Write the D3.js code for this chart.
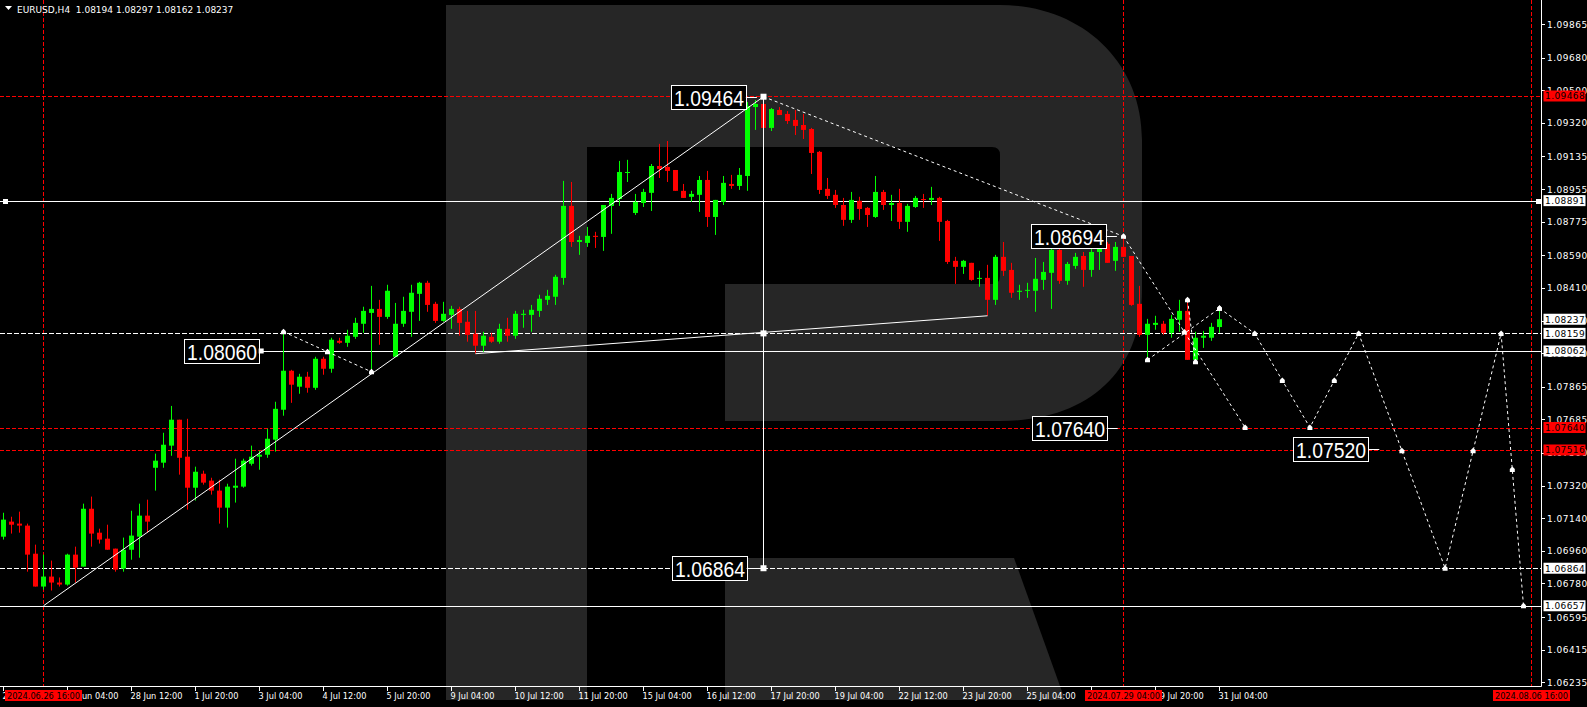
<!DOCTYPE html>
<html><head><meta charset="utf-8">
<script src="https://cdn.jsdelivr.net/npm/d3@7"></script>
<style>html,body{margin:0;padding:0;background:#000;overflow:hidden}</style>
</head><body>
<svg id="chart" width="1587" height="707"></svg>
<script>
// ---------------- DATA ----------------
const symbolTitle = "EURUSD,H4  1.08194 1.08297 1.08162 1.08237";
const candleOpen = [1.07038,1.07121,1.07110,1.07099,1.06944,1.06763,1.06818,1.06785,1.06774,1.06939,
1.06873,1.07192,1.07060,1.07027,1.06972,1.06862,1.06966,1.07038,1.07154,1.07418,
1.07446,1.07540,1.07683,1.07479,1.07308,1.07385,1.07347,1.07292,1.07198,1.07308,
1.07314,1.07440,1.07479,1.07490,1.07573,1.07738,1.07953,1.07865,1.07920,1.07859,
1.08019,1.07964,1.08118,1.08107,1.08140,1.08212,1.08272,1.08294,1.08250,1.08030,
1.08212,1.08278,1.08377,1.08438,1.08322,1.08228,1.08261,1.08294,1.08223,1.08157,
1.08091,1.08140,1.08113,1.08184,1.08146,1.08261,1.08261,1.08283,1.08344,1.08361,
1.08465,1.08862,1.08663,1.08658,1.08697,1.08691,1.08862,1.08900,1.09044,1.08823,
1.08878,1.08934,1.09082,1.09077,1.09060,1.08945,1.08912,1.08923,1.09005,1.08801,
1.08884,1.08983,1.08972,1.09027,1.09407,1.09424,1.09292,1.09391,1.09369,1.09336,
1.09308,1.09286,1.09160,1.08956,1.08923,1.08867,1.08785,1.08890,1.08851,1.08801,
1.08939,1.08867,1.08878,1.08774,1.08856,1.08900,1.08895,1.08906,1.08779,1.08559,
1.08526,1.08548,1.08460,1.08465,1.08344,1.08581,1.08509,1.08388,1.08394,1.08394,
1.08454,1.08493,1.08619,1.08449,1.08531,1.08586,1.08509,1.08608,1.08653,1.08559,
1.08636,1.08586,1.08322,1.08151,1.08206,1.08212,1.08162,1.08234,1.08283,1.08013,
1.08135,1.08135,1.08194];
const candleHigh = [1.07170,1.07148,1.07176,1.07110,1.06994,1.06939,1.06906,1.06813,1.06944,1.06983,
1.07220,1.07259,1.07082,1.07104,1.06972,1.07033,1.07181,1.07220,1.07242,1.07496,
1.07611,1.07759,1.07683,1.07688,1.07424,1.07402,1.07363,1.07352,1.07330,1.07468,
1.07468,1.07540,1.07512,1.07633,1.07782,1.08168,1.07958,1.07936,1.07947,1.08030,
1.08030,1.08135,1.08135,1.08179,1.08245,1.08306,1.08421,1.08344,1.08427,1.08327,
1.08361,1.08427,1.08443,1.08449,1.08333,1.08333,1.08311,1.08306,1.08283,1.08283,
1.08168,1.08162,1.08212,1.08245,1.08283,1.08289,1.08316,1.08372,1.08399,1.08482,
1.09000,1.08994,1.08697,1.08746,1.08719,1.08867,1.08928,1.09110,1.09116,1.08928,
1.08956,1.09093,1.09204,1.09220,1.09060,1.08983,1.08945,1.09027,1.09055,1.08895,
1.09027,1.09033,1.09071,1.09435,1.09446,1.09464,1.09402,1.09407,1.09385,1.09391,
1.09369,1.09292,1.09165,1.09016,1.08950,1.08906,1.08939,1.08912,1.08856,1.09027,
1.08950,1.08923,1.08956,1.08873,1.08917,1.08928,1.08967,1.08912,1.08785,1.08581,
1.08564,1.08548,1.08504,1.08537,1.08592,1.08663,1.08548,1.08427,1.08438,1.08575,
1.08553,1.08653,1.08669,1.08553,1.08603,1.08608,1.08653,1.08674,1.08663,1.08663,
1.08694,1.08586,1.08421,1.08239,1.08256,1.08228,1.08261,1.08344,1.08344,1.08168,
1.08173,1.08217,1.08297];
const candleLow = [1.07022,1.07055,1.07060,1.06845,1.06763,1.06746,1.06741,1.06763,1.06768,1.06785,
1.06873,1.06983,1.07000,1.06966,1.06845,1.06845,1.06911,1.06922,1.07060,1.07292,
1.07418,1.07484,1.07380,1.07187,1.07237,1.07325,1.07270,1.07110,1.07088,1.07226,
1.07308,1.07430,1.07407,1.07473,1.07507,1.07705,1.07776,1.07826,1.07832,1.07848,
1.07931,1.07942,1.08102,1.08085,1.08129,1.08162,1.07947,1.08096,1.08239,1.08030,
1.08195,1.08140,1.08228,1.08278,1.08217,1.08223,1.08184,1.08146,1.08113,1.08047,
1.08058,1.08107,1.08102,1.08113,1.08129,1.08190,1.08168,1.08250,1.08316,1.08316,
1.08427,1.08636,1.08592,1.08636,1.08630,1.08614,1.08708,1.08862,1.08994,1.08812,
1.08856,1.08834,1.09016,1.08994,1.08945,1.08906,1.08884,1.08829,1.08746,1.08702,
1.08867,1.08956,1.08950,1.08945,1.09281,1.09292,1.09275,1.09363,1.09314,1.09253,
1.09231,1.09038,1.08928,1.08900,1.08851,1.08752,1.08768,1.08785,1.08746,1.08796,
1.08840,1.08779,1.08735,1.08719,1.08851,1.08851,1.08867,1.08669,1.08542,1.08432,
1.08487,1.08449,1.08416,1.08256,1.08316,1.08476,1.08355,1.08344,1.08355,1.08278,
1.08399,1.08294,1.08432,1.08427,1.08515,1.08416,1.08471,1.08509,1.08548,1.08504,
1.08581,1.08311,1.08140,1.08013,1.08179,1.08151,1.08135,1.08168,1.08013,1.08002,
1.08079,1.08118,1.08162];
const candleClose = [1.07132,1.07104,1.07099,1.06939,1.06763,1.06818,1.06785,1.06774,1.06939,1.06867,
1.07192,1.07055,1.07022,1.06966,1.06856,1.06966,1.07044,1.07154,1.07121,1.07457,
1.07545,1.07683,1.07473,1.07308,1.07396,1.07336,1.07292,1.07198,1.07314,1.07319,
1.07457,1.07479,1.07490,1.07578,1.07743,1.07953,1.07876,1.07920,1.07859,1.08019,
1.07964,1.08124,1.08107,1.08146,1.08217,1.08283,1.08294,1.08250,1.08394,1.08212,
1.08283,1.08383,1.08438,1.08316,1.08228,1.08267,1.08294,1.08217,1.08151,1.08091,
1.08146,1.08113,1.08184,1.08146,1.08267,1.08267,1.08289,1.08350,1.08366,1.08471,
1.08862,1.08663,1.08674,1.08697,1.08691,1.08867,1.08906,1.09049,1.09049,1.08884,
1.08939,1.09082,1.09066,1.09055,1.08945,1.08906,1.08928,1.09005,1.08801,1.08895,
1.08989,1.08972,1.09033,1.09413,1.09424,1.09292,1.09396,1.09363,1.09330,1.09303,
1.09281,1.09154,1.08950,1.08917,1.08867,1.08785,1.08895,1.08845,1.08812,1.08939,
1.08867,1.08878,1.08774,1.08862,1.08906,1.08895,1.08906,1.08774,1.08553,1.08526,
1.08559,1.08454,1.08465,1.08344,1.08581,1.08504,1.08383,1.08394,1.08399,1.08460,
1.08498,1.08619,1.08449,1.08542,1.08581,1.08509,1.08608,1.08653,1.08548,1.08636,
1.08581,1.08316,1.08151,1.08212,1.08217,1.08162,1.08239,1.08283,1.08013,1.08135,
1.08146,1.08195,1.08237];

const priceTicks = ["1.09865","1.09680","1.09500","1.09320","1.09135","1.08955","1.08775","1.08590",
"1.08410","1.08230","1.08050","1.07865","1.07685","1.07500","1.07320","1.07140","1.06960","1.06780",
"1.06595","1.06415","1.06235"];
const timeTickBars = [0,8,16,24,32,40,48,56,64,72,80,88,96,104,112,120,128,136,144,152];
const timeTickLabels = ["25 Jun 20:00","27 Jun 04:00","28 Jun 12:00","1 Jul 20:00","3 Jul 04:00",
"4 Jul 12:00","5 Jul 20:00","9 Jul 04:00","10 Jul 12:00","11 Jul 20:00","15 Jul 04:00","16 Jul 12:00",
"17 Jul 20:00","19 Jul 04:00","22 Jul 12:00","23 Jul 20:00","25 Jul 04:00","26 Jul 12:00",
"29 Jul 20:00","31 Jul 04:00"];

const redLevels = [1.09468, 1.07640, 1.07516];
const whiteSolidLevels = [1.08891, 1.06657];
const whiteDashedLevels = [1.08159, 1.06864];
const supportLevel = {price: 1.08062, fromBar: 31.9};
const redTimeLines = [{bar: 5, text: "2024.06.26 16:00"}, {bar: 140, text: "2024.07.29 04:00"}, {bar: 191, text: "2024.08.06 16:00"}];
const axisRedBoxes = [1.09468, 1.07640, 1.07516];
const axisWhiteBoxes = [1.08891, 1.08237, 1.08159, 1.08062, 1.06864, 1.06657];

const trendLines = [[[5, 1.06657], [95, 1.09464]], [[59, 1.08047], [123, 1.08256]]];
const measureLine = {bar: 95, top: 1.09464, mid: 1.08159, bottom: 1.06864};
const zigzagA = [[35, 1.08168], [46, 1.07947]];
const zigzagB = [[95, 1.09464], [140, 1.08694]];
const zigzagC = [[140, 1.08694], [155.2, 1.07640]];
const zigzagD = [[143, 1.08013], [152, 1.08297]];
const zigzagE = [[148, 1.08344], [149, 1.08002]];
const forecast = [[152, 1.08297], [156.4, 1.08159], [163.3, 1.07640], [169.4, 1.08159], [180.2, 1.06864], [187.2, 1.08159], [190, 1.06657]];

const boxLabels = [
  {text: "1.09464", bar: 92.8, price: 1.09464},
  {text: "1.08694", bar: 137.8, price: 1.08694},
  {text: "1.08060", bar: 31.9, price: 1.08062, square: true},
  {text: "1.07640", bar: 137.9, price: 1.07640},
  {text: "1.07520", bar: 170.6, price: 1.07520},
  {text: "1.06864", bar: 92.9, price: 1.06864}
];

// ---------------- DRAW ----------------
const svg = d3.select("#chart");
const plotR = 1541, plotB = 686;
const x = d3.scaleLinear().domain([0, 191]).range([3.5, 3.5 + 8 * 191]);
const y = d3.scaleLinear().domain([1.06235, 1.09865]).range([682.3, 24]);

svg.append("rect").attr("width", 1587).attr("height", 707).attr("fill", "#000");

// watermark logo
svg.append("path").attr("fill", "#262626")
  .attr("d", "M446,5 H1000 C1080,5 1142,60 1142,140 V290 C1142,370 1090,421 1000,421 H725 V284 H992 Q1000,284 1000,276 V155 Q1000,147 992,147 H587 V700 H446 Z");
svg.append("path").attr("fill", "#262626")
  .attr("d", "M725,558 H1014 L1065,700 H725 Z");

svg.append("defs").append("clipPath").attr("id", "plot")
  .append("rect").attr("x", 0).attr("y", 0).attr("width", plotR).attr("height", plotB);
const g = svg.append("g").attr("clip-path", "url(#plot)");
const crisp = v => Math.round(v) + 0.5;

// red dashed levels
redLevels.forEach(p => g.append("line").attr("x1", 0).attr("x2", plotR)
  .attr("y1", crisp(y(p))).attr("y2", crisp(y(p)))
  .attr("stroke", "#ff0000").attr("stroke-dasharray", "4,2"));
// red time lines
redTimeLines.forEach(d => g.append("line").attr("x1", x(d.bar)).attr("x2", x(d.bar))
  .attr("y1", 0).attr("y2", plotB).attr("stroke", "#ff0000").attr("stroke-dasharray", "4,2"));
// white solid levels
whiteSolidLevels.forEach(p => g.append("line").attr("x1", 0).attr("x2", plotR)
  .attr("y1", crisp(y(p))).attr("y2", crisp(y(p))).attr("stroke", "#fff"));
g.append("line").attr("x1", x(supportLevel.fromBar)).attr("x2", plotR)
  .attr("y1", crisp(y(supportLevel.price))).attr("y2", crisp(y(supportLevel.price))).attr("stroke", "#fff");
// white dashed levels
whiteDashedLevels.forEach(p => g.append("line").attr("x1", 0).attr("x2", plotR)
  .attr("y1", crisp(y(p))).attr("y2", crisp(y(p)))
  .attr("stroke", "#fff").attr("stroke-dasharray", "5,2"));
// handles of 1.08891 line
[3, plotR - 5].forEach(hx => g.append("rect").attr("x", hx).attr("y", Math.round(y(whiteSolidLevels[0])) - 2)
  .attr("width", 5).attr("height", 5).attr("fill", "#fff"));

// candles
const candles = candleOpen.map((o, i) => ({i, o, h: candleHigh[i], l: candleLow[i], c: candleClose[i]}));
const cg = g.append("g");
candles.forEach(d => {
  const col = d.c >= d.o ? "#00ff00" : "#ff0000";
  cg.append("line").attr("x1", x(d.i)).attr("x2", x(d.i))
    .attr("y1", y(d.h)).attr("y2", y(d.l)).attr("stroke", col);
  const top = y(Math.max(d.o, d.c)), bot = y(Math.min(d.o, d.c));
  cg.append("rect").attr("x", x(d.i) - 2.5).attr("width", 5)
    .attr("y", top).attr("height", Math.max(1, bot - top)).attr("fill", col);
});

// trend lines
const lineGen = d3.line().x(d => x(d[0])).y(d => y(d[1]));
trendLines.forEach(t => g.append("path").attr("d", lineGen(t)).attr("fill", "none").attr("stroke", "#fff"));
g.append("line").attr("x1", x(measureLine.bar)).attr("x2", x(measureLine.bar))
  .attr("y1", y(measureLine.top)).attr("y2", y(measureLine.bottom)).attr("stroke", "#fff");
[measureLine.top, measureLine.mid, measureLine.bottom].forEach(p =>
  g.append("rect").attr("x", x(measureLine.bar) - 3).attr("y", y(p) - 3).attr("width", 6).attr("height", 6).attr("fill", "#fff"));

// zigzags
[zigzagA, zigzagB, zigzagC, zigzagD, zigzagE, forecast].forEach(z =>
  g.append("path").attr("d", lineGen(z)).attr("fill", "none").attr("stroke", "#fff")
    .attr("stroke-dasharray", "3,3"));
const markerPts = [];
[zigzagA, zigzagC, zigzagD, zigzagE, forecast].forEach(z => z.forEach(p => markerPts.push(p)));
[zigzagA, zigzagC, forecast].forEach(z => {
  for (let k = 0; k < z.length - 1; k++) {
    if (z === forecast && k === 0) continue;
    markerPts.push([(z[k][0] + z[k + 1][0]) / 2, (z[k][1] + z[k + 1][1]) / 2]);
  }
});
markerPts.forEach(p => {
  const mx = x(p[0]), my = y(p[1]);
  g.append("path").attr("fill", "#fff")
    .attr("d", `M${mx - 2.5},${my + 2.5} L${mx - 2.5},${my - 0.5} L${mx},${my - 3} L${mx + 2.5},${my - 0.5} L${mx + 2.5},${my + 2.5} Z`);
});

// box labels
boxLabels.forEach(b => {
  const rx = x(b.bar), cy = y(b.price);
  const bx = Math.round(rx - 75) + 0.5, by = Math.round(cy - 12) + 0.5;
  g.append("rect").attr("x", bx).attr("y", by).attr("width", 75).attr("height", 24)
    .attr("fill", "#000").attr("stroke", "#fff");
  g.append("text").attr("x", bx + 37.5).attr("y", by + 20.5).attr("text-anchor", "middle")
    .attr("font-family", "Liberation Sans, Arial, sans-serif").attr("font-size", 22)
    .attr("textLength", 70).attr("lengthAdjust", "spacingAndGlyphs")
    .attr("fill", "#fff").text(b.text);
  if (b.square) {
    g.append("rect").attr("x", rx).attr("y", cy - 2.5).attr("width", 5).attr("height", 5).attr("fill", "#fff");
  } else {
    g.append("line").attr("x1", rx).attr("x2", rx + 11).attr("y1", crisp(cy)).attr("y2", crisp(cy)).attr("stroke", "#fff");
  }
});

// axes
svg.append("line").attr("x1", plotR + 0.5).attr("x2", plotR + 0.5).attr("y1", 0).attr("y2", plotB + 0.5).attr("stroke", "#fff");
svg.append("line").attr("x1", 0).attr("x2", plotR + 0.5).attr("y1", plotB + 0.5).attr("y2", plotB + 0.5).attr("stroke", "#fff");

const axisFont = "DejaVu Sans, Verdana, sans-serif";
priceTicks.forEach(t => {
  const ty = y(+t);
  svg.append("line").attr("x1", plotR).attr("x2", plotR + 4).attr("y1", crisp(ty)).attr("y2", crisp(ty)).attr("stroke", "#fff");
  svg.append("text").attr("x", 1547).attr("y", ty + 3.5).attr("font-family", axisFont)
    .attr("font-size", 9).attr("letter-spacing", 0.5).attr("fill", "#fff").text(t);
});
const valueBox = (p, bg, fg) => {
  const ty = y(p);
  svg.append("rect").attr("x", 1543.5).attr("y", ty - 5.5).attr("width", 42).attr("height", 11).attr("fill", bg);
  svg.append("text").attr("x", 1545).attr("y", ty + 3.5).attr("font-family", axisFont)
    .attr("font-size", 9).attr("letter-spacing", 0.4).attr("fill", fg).text(p.toFixed(5));
};
axisWhiteBoxes.forEach(p => valueBox(p, "#fff", "#000"));
axisRedBoxes.forEach(p => valueBox(p, "#ff0000", "#000"));

timeTickBars.forEach((b, k) => {
  svg.append("line").attr("x1", x(b)).attr("x2", x(b)).attr("y1", plotB).attr("y2", plotB + 5).attr("stroke", "#fff");
  svg.append("text").attr("x", x(b) - 1).attr("y", 699).attr("font-family", axisFont)
    .attr("font-size", 8.2).attr("fill", "#fff").text(timeTickLabels[k]);
});
redTimeLines.forEach(d => {
  svg.append("rect").attr("x", x(d.bar) - 38.5).attr("y", 690).attr("width", 77).attr("height", 11).attr("fill", "#ff0000");
  svg.append("text").attr("x", x(d.bar)).attr("y", 699).attr("text-anchor", "middle").attr("font-family", axisFont)
    .attr("font-size", 8.2).attr("fill", "#000").text(d.text);
});

// header
svg.append("path").attr("d", "M5,6 L12,6 L8.5,10 Z").attr("fill", "#fff");
svg.append("text").attr("x", 17).attr("y", 13).attr("font-family", axisFont).attr("font-size", 9)
  .attr("fill", "#fff").attr("xml:space", "preserve").style("white-space", "pre").text(symbolTitle);
</script>
</body></html>
